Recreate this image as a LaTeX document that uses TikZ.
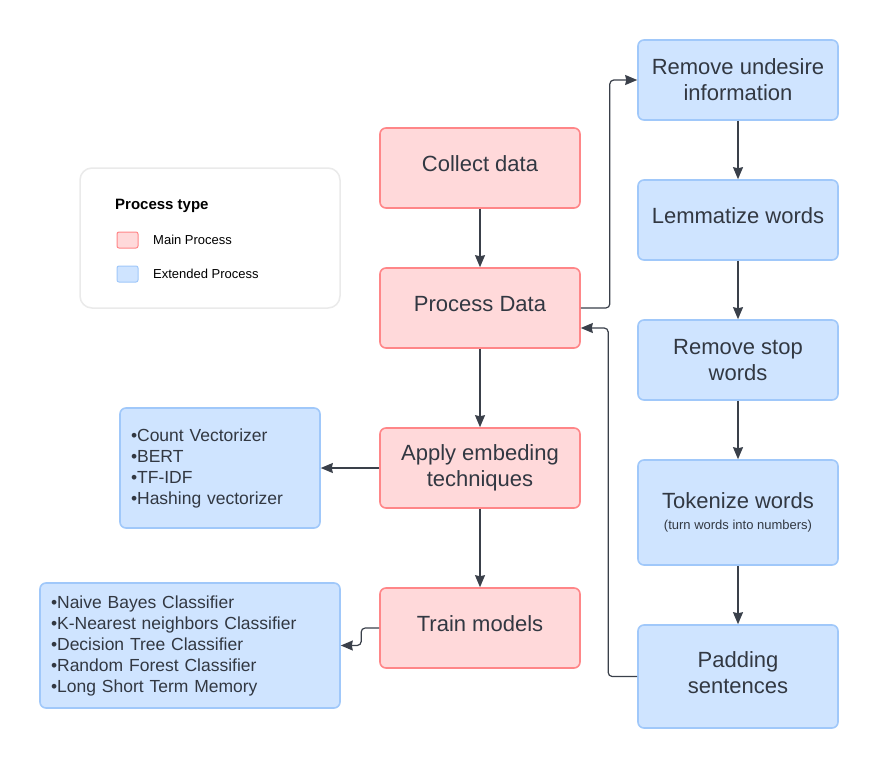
\documentclass[tikz,border=0pt]{standalone}
\usepackage{fontspec}
\setmainfont{Liberation Sans}
\usetikzlibrary{arrows.meta}
\definecolor{pinkfill}{RGB}{255,217,218}
\definecolor{pinkline}{RGB}{255,134,136}
\definecolor{bluefill}{RGB}{207,228,255}
\definecolor{blueline}{RGB}{160,200,250}
\definecolor{txt}{RGB}{50,56,66}
\definecolor{arr}{RGB}{58,64,74}
\definecolor{legline}{RGB}{234,234,234}
\tikzset{
  mainbox/.style={draw=pinkline, fill=pinkfill, line width=1.6pt, rounded corners=6pt,
    minimum width=200pt, minimum height=80pt, text=txt, align=center,
    font=\fontsize{22}{26}\selectfont},
  extbox/.style={draw=blueline, fill=bluefill, line width=1.6pt, rounded corners=6pt,
    minimum width=200pt, minimum height=80pt, text=txt, align=center,
    font=\fontsize{22}{26}\selectfont},
  oneline/.style={text depth=8pt},
  listbox/.style={draw=blueline, fill=bluefill, line width=1.6pt, rounded corners=6pt,
    text=txt, align=left, inner xsep=11pt, font=\fontsize{17.5}{21}\selectfont},
  conn/.style={draw=arr, line width=1.2pt, rounded corners=4pt,
    -{Stealth[length=12pt,width=10pt,inset=1pt]}},
  legtext/.style={text=black, anchor=west, inner sep=0pt, font=\fontsize{13}{15}\selectfont},
}
\begin{document}
\begin{tikzpicture}[x=1pt,y=-1pt]
\useasboundingbox (0,0) rectangle (878,768);
\fill[white] (0,0) rectangle (878,768);

% legend
\node[draw=legline, line width=1.5pt, rounded corners=12pt, minimum width=260pt, minimum height=140pt] (legend) at (210,238) {};
\node[anchor=west, inner sep=0pt, font=\bfseries\fontsize{15}{17}\selectfont] (legtitle) at (115,206) {Process type};
\node[draw=pinkline, fill=pinkfill, line width=1pt, rounded corners=2pt, minimum width=21pt, minimum height=16pt, inner sep=0pt] (swmain) at (127.5,240) {};
\node[draw=blueline, fill=bluefill, line width=1pt, rounded corners=2pt, minimum width=21pt, minimum height=16pt, inner sep=0pt] (swext) at (127.5,274) {};
\node[legtext] (lmain) at (153,240) {Main Process};
\node[legtext] (lext) at (153,274) {Extended Process};

% main column
\node[mainbox, oneline] (collect) at (480,168) {Collect data};
\node[mainbox, oneline] (process) at (480,308) {Process Data};
\node[mainbox] (apply) at (480,468) {Apply embeding\\techniques};
\node[mainbox, oneline] (train) at (480,628) {Train models};

% right column
\node[extbox] (remove) at (738,80) {Remove undesire\\information};
\node[extbox, oneline] (lemma) at (738,220) {Lemmatize words};
\node[extbox] (stop) at (738,360) {Remove stop\\words};
\node[extbox, minimum height=105pt] (token) at (738,512.5) {Tokenize words\\[-5pt]{\fontsize{13}{15}\selectfont (turn words into numbers)}};
\node[extbox, minimum height=103pt] (pad) at (738,676.5) {Padding\\sentences\rule[-8pt]{0pt}{8pt}};

% lists
\node[listbox, text width=178pt, minimum height=120pt] (emb) at (220,468) {%
\textbullet Count Vectorizer\\\textbullet BERT\\\textbullet TF-IDF\\\textbullet Hashing vectorizer};
\node[listbox, text width=278pt, minimum height=125pt] (clf) at (190,645.5) {%
\textbullet Naive Bayes Classifier\\\textbullet K-Nearest neighbors Classifier\\\textbullet Decision Tree Classifier\\\textbullet Random Forest Classifier\\\textbullet Long Short Term Memory};

% connectors
\draw[conn] (collect) -- (process);
\draw[conn] (process) -- (apply);
\draw[conn] (apply) -- (train);
\draw[conn] (apply.west) -- (emb.east);
\draw[conn] (train.west) -- ++(-18,0) |- (clf.east);
\draw[conn] (process.east) -- ++(29,0) |- (remove.west);
\draw[conn] (pad.west) -- ++(-29,0) |- ([yshift=-20pt]process.east);
\draw[conn] (remove) -- (lemma);
\draw[conn] (lemma) -- (stop);
\draw[conn] (stop) -- (token);
\draw[conn] (token) -- (pad);
\end{tikzpicture}
\end{document}
